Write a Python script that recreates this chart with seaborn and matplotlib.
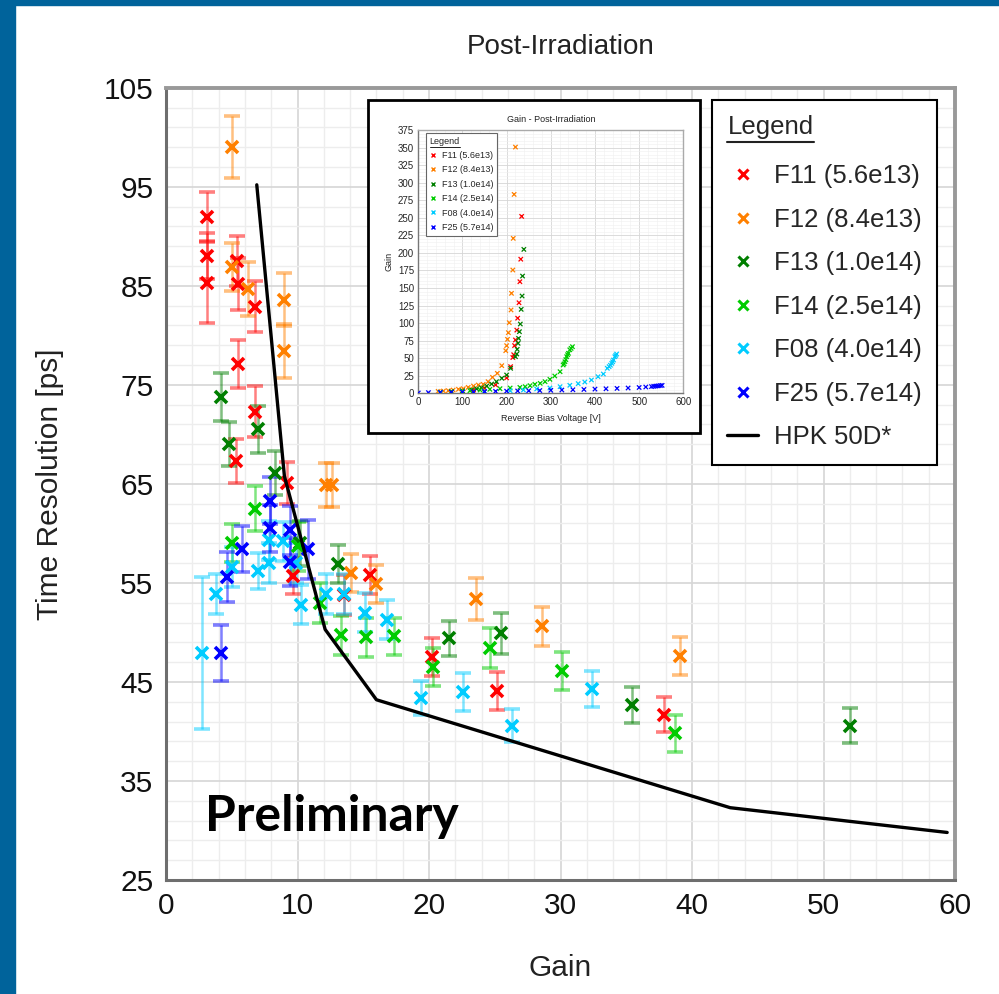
import matplotlib
matplotlib.use("Agg")
import matplotlib.pyplot as plt
import matplotlib.patches as mpatches
from matplotlib.lines import Line2D
from matplotlib.ticker import MultipleLocator, FixedLocator
import numpy as np
import pandas as pd
import seaborn as sns

# ---- main panel: time resolution vs gain ----
labels = ["F11 (5.6e13)", "F12 (8.4e13)", "F13 (1.0e14)",
          "F14 (2.5e14)", "F08 (4.0e14)", "F25 (5.7e14)"]
colors = ["#ff0000", "#ff8000", "#007f00", "#00cc00", "#00ccff", "#0000ff"]

f11_gain = [3.1, 3.1, 3.1, 5.4, 5.5, 6.8, 5.45, 6.8, 5.3, 9.2, 9.65, 13.5, 15.5, 20.2, 25.2, 37.9]
f11_res = [92.0, 88.0, 85.3, 87.5, 85.2, 82.9, 77.1, 72.3, 67.3, 65.1, 55.7, 53.8, 55.8, 47.5, 44.1, 41.7]
f11_err = [2.5, 2.3, 4.1, 2.5, 2.6, 2.6, 2.4, 2.6, 2.2, 2.1, 1.8, 2.0, 1.9, 1.9, 1.9, 1.8]

f12_gain = [5.0, 5.0, 6.2, 9.0, 9.0, 12.2, 12.6, 14.1, 16.0, 23.6, 28.6, 39.1]
f12_res = [99.0, 86.9, 84.7, 83.6, 78.4, 64.9, 64.9, 56.0, 54.9, 53.4, 50.6, 47.6]
f12_err = [3.1, 2.4, 2.7, 2.7, 2.7, 2.2, 2.2, 1.9, 1.9, 2.1, 2.0, 1.9]

f13_gain = [4.2, 4.8, 7.0, 8.3, 10.2, 13.1, 21.5, 25.5, 35.4, 52.0]
f13_res = [73.8, 69.0, 70.5, 66.1, 59.0, 56.9, 49.4, 49.9, 42.7, 40.6]
f13_err = [2.4, 2.2, 2.4, 2.2, 2.3, 1.9, 1.8, 2.1, 1.8, 1.8]

f14_gain = [5.0, 6.8, 10.0, 11.7, 13.3, 15.2, 17.3, 20.3, 24.6, 30.1, 38.7]
f14_res = [59.0, 62.5, 58.7, 53.0, 49.7, 49.5, 49.6, 46.5, 48.4, 46.1, 39.8]
f14_err = [1.9, 2.3, 2.5, 2.0, 2.0, 2.0, 1.9, 1.9, 2.0, 1.95, 1.85]

f08_gain = [2.7, 3.8, 5.0, 7.0, 7.8, 7.8, 8.9, 9.9, 10.3, 12.2, 13.5, 15.1, 16.8, 19.4, 22.6, 26.3, 32.4]
f08_res = [47.9, 53.9, 56.6, 56.2, 57.0, 59.3, 59.2, 57.0, 52.8, 53.9, 53.9, 52.0, 51.3, 43.4, 44.0, 40.6, 44.3]
f08_err = [7.7, 2.0, 2.0, 1.8, 2.0, 2.0, 2.0, 2.0, 1.95, 2.0, 2.0, 2.0, 2.0, 1.7, 1.9, 1.7, 1.85]

f25_gain = [4.2, 4.6, 5.8, 7.9, 7.9, 9.45, 9.45, 10.8]
f25_res = [47.9, 55.6, 58.4, 63.3, 60.5, 60.3, 57.1, 58.4]
f25_err = [2.8, 2.5, 2.3, 2.4, 2.4, 2.5, 2.4, 3.0]

hpk_gain = [6.9, 9.0, 12.1, 16.0, 42.9, 59.4]
hpk_res = [95.2, 65.8, 50.3, 43.2, 32.3, 29.8]

# ---- inset: gain vs reverse bias voltage ----
f11_v = [50, 75, 100, 125, 150, 175, 200, 209, 214, 216, 218, 220, 223, 225, 228, 230, 232, 234]
f11_g = [1.5, 2.5, 3.5, 5, 7, 12, 22, 38, 51, 55, 68, 76, 90, 107, 129, 159, 191, 252]
f12_v = [45, 57, 68, 79, 91, 102, 113, 125, 136, 147, 158, 168, 179, 189, 198, 200, 202, 204, 206, 210, 211, 214, 215, 217, 220]
f12_g = [2.8, 3.3, 3.8, 4.7, 5.7, 6.6, 8.5, 10.4, 11.9, 12.8, 16.6, 22.8, 28.5, 39.4, 60.7, 67.9, 76.9, 86.4, 100.6, 118.7, 142.4, 175.6, 220.7, 283.3, 350.7]
f13_v = [50, 75, 100, 121, 132, 143, 155, 166, 177, 189, 200, 209, 220, 223, 224, 226, 227, 229, 231, 233, 235, 236, 239]
f13_g = [1.5, 2.5, 3.5, 5, 6.5, 8.1, 10.4, 13.3, 16.6, 21.4, 26.1, 35.6, 52.2, 56, 62.6, 71.2, 78.3, 87.8, 98.7, 119.6, 138.6, 167, 205]
f14_v = [50, 75, 100, 117, 140, 162, 185, 208, 230, 242, 253, 264, 276, 287, 298, 309, 321, 328, 330, 332, 334, 336, 338, 340, 343, 346, 349]
f14_g = [1.5, 2, 3, 3.8, 4.7, 5.7, 6.6, 7.6, 8.5, 9.5, 10.9, 12.8, 14.2, 16.6, 19.9, 24.7, 30.8, 40.3, 42, 45, 48, 52.2, 55, 57, 62, 64, 66.4]
f08_v = [50, 100, 150, 208, 238, 268, 298, 321, 343, 362, 377, 392, 407, 419, 428, 432, 435, 438, 440, 442, 445, 447, 449]
f08_g = [1, 1.8, 2.8, 3.8, 4.7, 6.2, 7.6, 9.5, 11.4, 13.8, 16.1, 19, 23.7, 27.5, 35.6, 38, 40, 42.7, 45, 47.5, 52.2, 54, 56]
f25_v = [0, 23, 50, 75, 100, 125, 150, 175, 200, 225, 250, 275, 300, 325, 350, 375, 400, 425, 450, 475, 500, 515, 528, 533, 538, 543, 548, 552]
f25_g = [0.5, 1, 1.3, 1.6, 1.9, 2.2, 2.5, 2.8, 3.1, 3.4, 3.7, 4, 4.3, 4.7, 5.1, 5.5, 6, 6.5, 7, 7.6, 8.3, 9, 9.6, 10, 10.3, 10.6, 11, 11.3]

sns.set_theme(style="white")
plt.rcParams["font.family"] = ["Liberation Sans", "DejaVu Sans"]

fig = plt.figure(figsize=(9.99, 9.94), dpi=100)

# blue slide border (left and top)
fig.add_artist(mpatches.Rectangle((0, 0), 15 / 999, 1, transform=fig.transFigure,
                                  color="#00639b", zorder=0))
fig.add_artist(mpatches.Rectangle((0, 1 - 5 / 994), 1, 5 / 994, transform=fig.transFigure,
                                  color="#00639b", zorder=0))

ax = fig.add_axes([0.1662, 0.1147, 0.7898, 0.797])

main = [(f11_gain, f11_res, f11_err), (f12_gain, f12_res, f12_err),
        (f13_gain, f13_res, f13_err), (f14_gain, f14_res, f14_err),
        (f08_gain, f08_res, f08_err), (f25_gain, f25_res, f25_err)]
for (g, r, e), c in zip(main, colors):
    _, caps, bars = ax.errorbar(g, r, yerr=e, fmt="x", ms=9, mew=2.6, color=c, ecolor=c,
                                elinewidth=1.8, capsize=5.5, capthick=1.8, zorder=3)
    for cl in caps:
        cl.set_alpha(0.5)
    for b in bars:
        b.set_alpha(0.5)

sns.lineplot(x=hpk_gain, y=hpk_res, ax=ax, color="black", lw=2.4, legend=False,
             sort=False, zorder=4)

ax.set_xlim(0, 60)
ax.set_ylim(25, 105)
ax.xaxis.set_major_locator(MultipleLocator(10))
ax.xaxis.set_minor_locator(MultipleLocator(2))
ax.yaxis.set_major_locator(FixedLocator(np.arange(25, 106, 10)))
ax.yaxis.set_minor_locator(FixedLocator(np.arange(25, 106, 2)))
ax.grid(which="major", color="#d6d6d6", lw=1.2)
ax.grid(which="minor", color="#ededed", lw=1.0)
ax.set_axisbelow(True)
ax.tick_params(which="major", direction="inout", length=16, width=1.5, color="#333333",
               labelsize=21.5, pad=1, labelcolor="#111111")
ax.tick_params(which="minor", direction="inout", length=10, width=1.3, color="#333333")
for s in ["left", "bottom"]:
    ax.spines[s].set_color("#6e6e6e")
    ax.spines[s].set_linewidth(2.2)
for s in ["top", "right"]:
    ax.spines[s].set_color("#999999")
    ax.spines[s].set_linewidth(2.8)

ax.set_title("Post-Irradiation", fontsize=20, pad=24, color="#222222")
ax.set_xlabel("Gain", fontsize=21.5, labelpad=24, color="#222222")
ax.set_ylabel("Time Resolution [ps]", fontsize=21.5, labelpad=29, color="#222222")

ax.text(3.0, 29.9, "Preliminary", fontsize=36, fontweight="bold",
        family=["Lato", "DejaVu Sans"], color="black", va="baseline", zorder=5)

handles = [Line2D([], [], marker="x", ls="none", color=c, ms=7, mew=2.2) for c in colors]
handles.append(Line2D([], [], color="black", lw=2.4))
leg = ax.legend(handles, labels + ["HPK 50D*"], title="Legend", loc="upper left",
                bbox_to_anchor=(0.692, 0.985), borderaxespad=0, frameon=True,
                fancybox=False, edgecolor="black", framealpha=1, fontsize=18.5,
                title_fontsize=18.5, alignment="left", handlelength=1.2,
                handletextpad=0.6, labelspacing=0.76, borderpad=0.6)
leg.get_frame().set_linewidth(1.5)
leg.set_zorder(10)
leg._legend_box.sep = 18

# ---- inset panel ----
fig.add_artist(mpatches.Rectangle((0.3684, 0.5644), 0.3323, 0.335, transform=fig.transFigure,
                                  fc="white", ec="black", lw=2, zorder=5))
ins = fig.add_axes([0.4187, 0.6043, 0.2653, 0.2649], zorder=6)
inset = [(f11_v, f11_g), (f12_v, f12_g), (f13_v, f13_g),
         (f14_v, f14_g), (f08_v, f08_g), (f25_v, f25_g)]
df = pd.concat([pd.DataFrame({"V": v, "G": g, "name": n})
                for (v, g), n in zip(inset, labels)], ignore_index=True)
sns.scatterplot(data=df, x="V", y="G", hue="name", palette=colors, marker="x",
                s=10, linewidth=0.9, ax=ins, legend=False, zorder=3)
ins.set_xlim(0, 600)
ins.set_ylim(0, 375)
ins.xaxis.set_major_locator(MultipleLocator(100))
ins.xaxis.set_minor_locator(MultipleLocator(20))
ins.yaxis.set_major_locator(MultipleLocator(25))
ins.yaxis.set_minor_locator(MultipleLocator(5))
ins.grid(which="major", color="#d6d6d6", lw=0.6)
ins.grid(which="minor", color="#efefef", lw=0.4)
ins.set_axisbelow(True)
ins.tick_params(which="major", direction="inout", length=4, width=0.8, color="#333333",
                labelsize=7, pad=1)
ins.tick_params(which="minor", length=0)
for s in ["left", "bottom"]:
    ins.spines[s].set_color("#777777")
    ins.spines[s].set_linewidth(1.0)
for s in ["top", "right"]:
    ins.spines[s].set_color("#aaaaaa")
    ins.spines[s].set_linewidth(1.0)
ins.set_title("Gain - Post-Irradiation", fontsize=6.5, pad=6, color="#222222")
ins.set_xlabel("Reverse Bias Voltage [V]", fontsize=6.5, labelpad=5, color="#222222")
ins.set_ylabel("Gain", fontsize=6.5, labelpad=3, color="#222222")

ihandles = [Line2D([], [], marker="x", ls="none", color=c, ms=3, mew=1) for c in colors]
ileg = ins.legend(ihandles, labels, title="Legend", loc="upper left",
                  bbox_to_anchor=(0.029, 0.989), borderaxespad=0, frameon=True,
                  fancybox=False, edgecolor="#666666", framealpha=1, fontsize=6.5,
                  title_fontsize=6.5, alignment="left", handlelength=0.8,
                  handletextpad=0.6, labelspacing=0.6, borderpad=0.4)
ileg.get_frame().set_linewidth(0.8)

# underline both legend titles
fig.canvas.draw()
inv = fig.transFigure.inverted()
for lg, lw, off in [(leg, 1.5, 3), (ileg, 0.7, 1)]:
    bb = lg.get_title().get_window_extent()
    (x0, y0), (x1, _) = inv.transform([(bb.x0, bb.y0 - off), (bb.x1, bb.y0 - off)])
    fig.add_artist(Line2D([x0, x1], [y0, y0], transform=fig.transFigure,
                          color="#222222", lw=lw, zorder=20))

fig.savefig("out.png", dpi=100)
